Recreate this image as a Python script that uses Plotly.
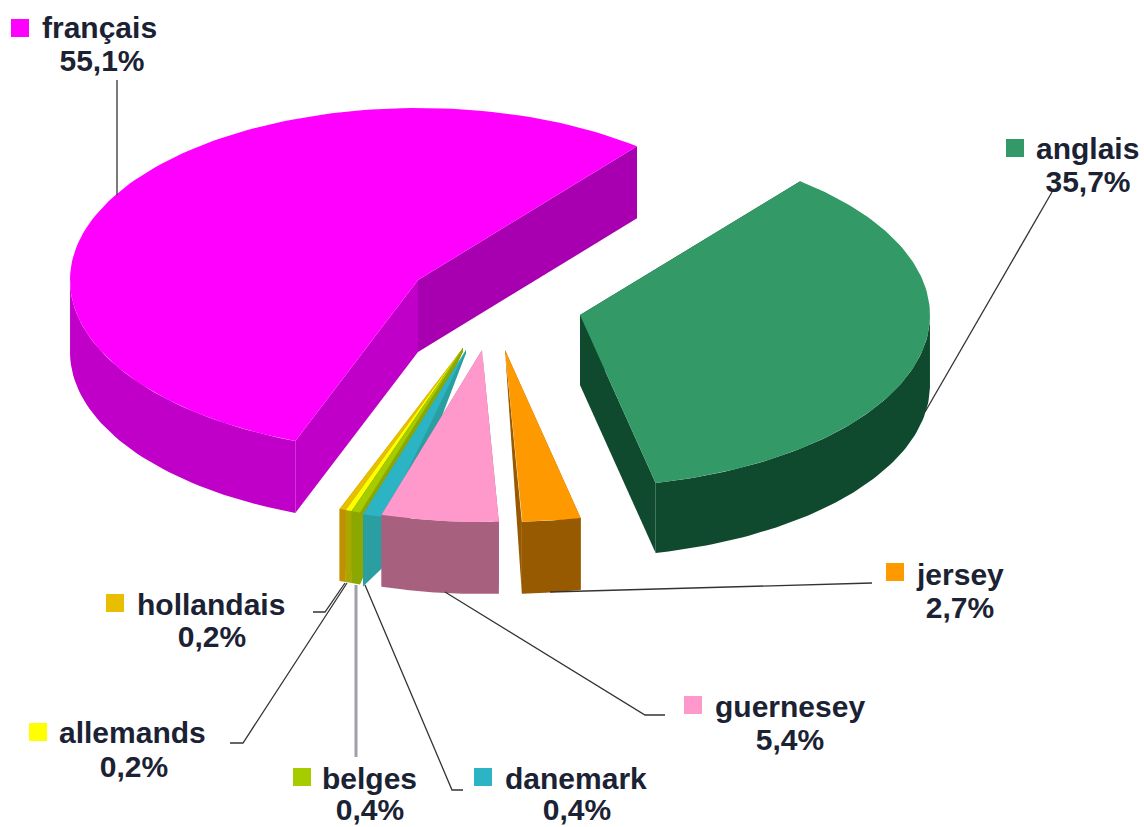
import numpy as np
import plotly.graph_objects as go

# data
languages = ['français', 'anglais', 'jersey', 'guernesey', 'danemark', 'belges', 'allemands', 'hollandais']
shares = [55.1, 35.7, 2.7, 5.4, 0.4, 0.4, 0.2, 0.2]
share_labels = ['55,1%', '35,7%', '2,7%', '5,4%', '0,4%', '0,4%', '0,2%', '0,2%']

# colours
top_colors = ['#FF00FF', '#339966', '#FF9900', '#FF99CC', '#2DB4C4', '#A6CC00', '#FFFF00', '#E8BE00']
wall_colors = ['#C000C8', '#0F4A2E', '#985A00', '#A8607F', '#2A9EA0', '#8CA800', '#A8A800', '#C09000']
francais_back_wall = '#A800B0'

# exploded layout of each slice: apex, ellipse radii, depth
apex_x = [418, 580, 505, 482, 466, 463, 463, 463]
apex_y = [280, 315, 350, 350, 350, 348, 348, 348]
radius_x = [348, 350, 350, 350, 350, 350, 350, 350]
radius_y = [172, 172, 172, 172, 172, 172, 172, 172]
depth = [72, 70, 72, 72, 72, 72, 72, 72]
apex_drop = [72, 70, 3, 0, 3, 3, 3, 3]
# how much the wall of a slice shrinks towards its far end (danemark slants up behind guernesey)
wall_taper = [0, 0, 0, 0, 24, 0, 0, 0]
# the tiny slices are widened on the page so that they stay visible
widen = [1, 1, 1, 1, 2.6, 1.0, 1.4, 1.5]

# labels
key_x = [20, 1015, 895, 693, 483, 302, 38, 115]
key_y = [28, 148, 572, 705, 777, 777, 732, 603]
name_x = [42, 1036, 917, 715, 505, 322, 59, 137]
name_y = [30, 151, 577, 709, 781, 781, 735, 607]
pct_x = [102, 1088, 960, 790, 577, 370, 134, 212]
pct_y = [63, 184, 610, 742, 812, 812, 769, 639]

leaders = [
    ([117, 117], [80, 195]),
    ([1052, 925], [192, 412]),
    ([872, 550], [583, 592]),
    ([445, 645, 665], [592, 715, 715]),
    ([365, 452, 463], [585, 790, 790]),
    ([347, 243, 230], [583, 743, 743]),
    ([345, 325, 313], [583, 612, 612]),
]
belges_leader = ([356, 356], [585, 757])

START_ANGLE = 51

# français and the tiny slices run counter-clockwise from the start angle,
# anglais, jersey and guernesey run clockwise from it
spans = [s * 3.6 * w for s, w in zip(shares, widen)]
angles = {}
a = START_ANGLE
for i in [1, 2, 3]:
    angles[i] = (a - spans[i], a)
    a -= spans[i]
a = START_ANGLE
for i in [0, 7, 6, 5, 4]:
    angles[i] = (a, a + spans[i])
    a += spans[i]


def ell(i, t):
    t = np.radians(t)
    return apex_x[i] + radius_x[i] * np.cos(t), apex_y[i] - radius_y[i] * np.sin(t)


def poly(xs, ys, color):
    return go.Scatter(x=list(xs), y=list(ys), mode='lines', fill='toself', fillcolor=color,
                      line=dict(width=0, color=color), hoverinfo='skip', showlegend=False)


fig = go.Figure()

for i in [0, 1, 7, 6, 5, 4, 3, 2]:
    t0, t1 = angles[i]
    ts = np.linspace(t0, t1, 120)
    x, y = ell(i, ts)
    ax, ay = apex_x[i], apex_y[i]
    d = depth[i]
    drop = apex_drop[i]

    # cut walls on both sides of the apex
    for e in [t0, t1]:
        ex, ey = ell(i, e)
        end_d = d - wall_taper[i] if e == t1 else d
        color = francais_back_wall if (i == 0 and e == t0) else wall_colors[i]
        fig.add_trace(poly([ax, ex, ex, ax, ax], [ay, ey, ey + end_d, ay + drop, ay], color))

    # outer wall, only the front part of the rim shows
    front = ((ts % 360) >= 180)
    if front.any():
        fx, fy = x[front], y[front]
        fd = d - wall_taper[i] * (ts[front] - t0) / (t1 - t0)
        fig.add_trace(poly(np.r_[fx, fx[::-1], fx[0]], np.r_[fy, (fy + fd)[::-1], fy[0]], wall_colors[i]))

    # top face
    fig.add_trace(poly(np.r_[ax, x, ax], np.r_[ay, y, ay], top_colors[i]))

# leader lines
for lx, ly in leaders:
    fig.add_trace(go.Scatter(x=lx, y=ly, mode='lines', line=dict(color='#333333', width=1.3),
                             hoverinfo='skip', showlegend=False))
fig.add_trace(go.Scatter(x=belges_leader[0], y=belges_leader[1], mode='lines',
                         line=dict(color='#A0A0A8', width=3), hoverinfo='skip', showlegend=False))

# legend keys and text
font = dict(family='Liberation Sans', size=30, color='#1B2233', weight='bold')
fig.add_trace(go.Scatter(x=key_x, y=key_y, mode='markers', hoverinfo='skip', showlegend=False,
                         marker=dict(symbol='square', size=18, color=top_colors, line=dict(width=0))))
fig.add_trace(go.Scatter(x=name_x, y=name_y, mode='text', text=languages, textposition='middle right',
                         textfont=font, hoverinfo='skip', showlegend=False))
fig.add_trace(go.Scatter(x=pct_x, y=pct_y, mode='text', text=share_labels, textposition='middle center',
                         textfont=font, hoverinfo='skip', showlegend=False))

fig.update_xaxes(range=[0, 1144], visible=False)
fig.update_yaxes(range=[827, 0], visible=False)
fig.update_layout(width=1144, height=827, margin=dict(l=0, r=0, t=0, b=0),
                  paper_bgcolor='white', plot_bgcolor='white', showlegend=False)

# the page's default body margin would push the chart off the window
fig.write_html("out.html", post_script="document.body.style.margin='0';",
               config={'displayModeBar': False})
